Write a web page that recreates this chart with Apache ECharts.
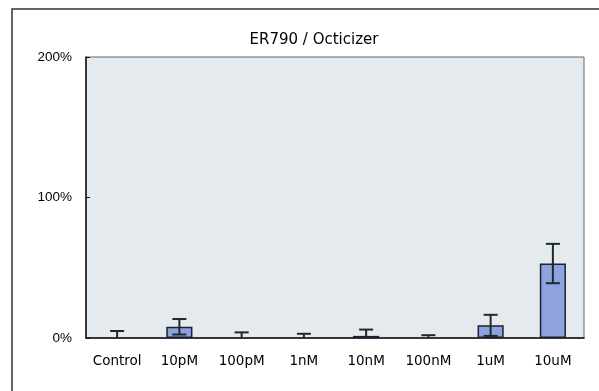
<!DOCTYPE html>
<html>
<head>
<meta charset="utf-8">
<script src="https://cdn.jsdelivr.net/npm/echarts@6/dist/echarts.min.js"></script>
<style>
  html, body { margin: 0; padding: 0; background: #fff; }
  #chart { width: 599px; height: 391px; }
</style>
</head>
<body>
<div id="chart"></div>
<script>
// Response by concentration, mean with error (percent of reference)
const categories = ['Control', '10pM', '100pM', '1nM', '10nM', '100nM', '1uM', '10uM'];
const meanValues = [0, 8, 0, 0, 1.5, 0, 9, 53];
const errorValues = [5, 5.5, 4, 3, 4.5, 2, 7.5, 14];
const yTicks = [0, 100, 200];

const chart = echarts.init(document.getElementById('chart'));

// a zero mean has no visible bar, so leave it out instead of drawing a flat outline
const barData = meanValues.map(v => (v > 0 ? v : '-'));
const errorData = categories.map((c, i) => [i, meanValues[i], errorValues[i]]);

const option = {
  animation: false,
  title: {
    text: 'ER790 / Octicizer',
    left: 309,
    textAlign: 'center',
    top: 28,
    textStyle: { fontFamily: 'DejaVu Sans', fontSize: 15, fontWeight: 'normal', color: '#000' }
  },
  graphic: [{
    type: 'rect',
    shape: { x: 12, y: 9, width: 620, height: 420 },
    style: { fill: 'none', stroke: '#333', lineWidth: 1.5 },
    z: -10
  }],
  grid: {
    left: 86, right: 15, top: 57, bottom: 53,
    show: true,
    backgroundColor: '#e5eaef',
    borderColor: '#666',
    borderWidth: 1
  },
  xAxis: {
    type: 'category',
    data: categories,
    axisLine: { lineStyle: { color: '#111', width: 1.5 } },
    axisTick: { inside: true, length: 5, lineStyle: { color: '#111' } },
    axisLabel: { interval: 0, hideOverlap: false, margin: 16, fontFamily: 'DejaVu Sans', fontSize: 13.5, color: '#000' }
  },
  yAxis: {
    type: 'value',
    min: yTicks[0],
    max: yTicks[yTicks.length - 1],
    interval: yTicks[1] - yTicks[0],
    axisLine: { show: true, lineStyle: { color: '#111', width: 1.5 } },
    axisTick: { show: true, inside: true, length: 4, lineStyle: { color: '#111' } },
    splitLine: { show: false },
    axisLabel: { margin: 14, formatter: '{value}%', fontFamily: 'Liberation Sans', fontSize: 13.5, color: '#000' }
  },
  series: [
    {
      type: 'bar',
      data: barData,
      barWidth: '42%',
      itemStyle: { color: '#8fa2e0', borderColor: '#1a2233', borderWidth: 1.5 },
      z: 2
    },
    {
      type: 'custom',
      data: errorData,
      z: 3,
      renderItem: function (params, api) {
        const i = api.value(0);
        const v = api.value(1);
        const e = api.value(2);
        const hi = api.coord([i, v + e]);
        const lowVal = Math.max(0, v - e);
        const lo = api.coord([i, lowVal]);
        const cap = 7;
        const style = { stroke: '#1c2a2a', lineWidth: 2 };
        const children = [
          { type: 'line', shape: { x1: hi[0], y1: hi[1], x2: lo[0], y2: lo[1] }, style },
          { type: 'line', shape: { x1: hi[0] - cap, y1: hi[1], x2: hi[0] + cap, y2: hi[1] }, style }
        ];
        if (v - e > 0) {
          children.push({ type: 'line', shape: { x1: lo[0] - cap, y1: lo[1], x2: lo[0] + cap, y2: lo[1] }, style });
        }
        return { type: 'group', children };
      }
    }
  ]
};

chart.setOption(option);
</script>
</body>
</html>
